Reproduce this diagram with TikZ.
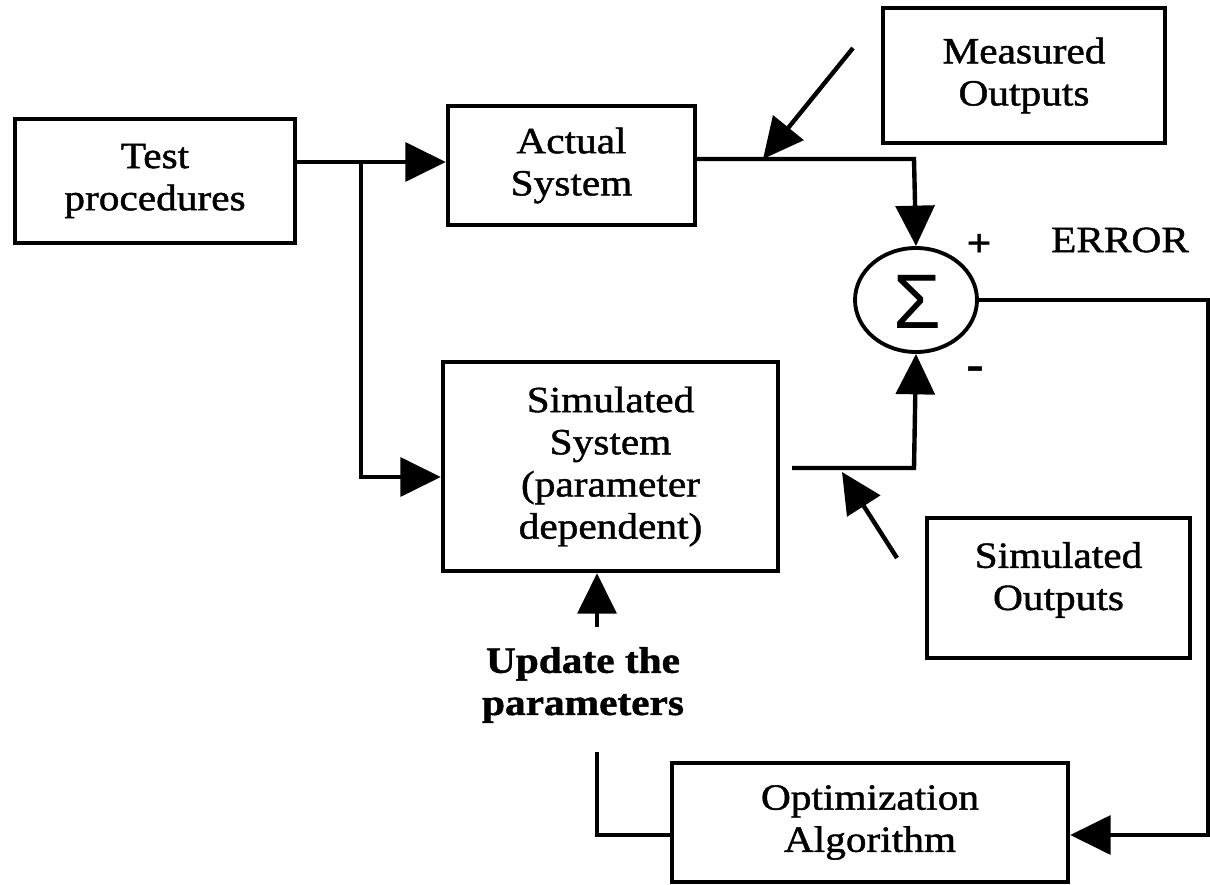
\documentclass[tikz,border=0pt]{standalone}
\usepackage{fontspec}
\setmainfont{Liberation Serif}[FakeStretch=1.12,FakeBold=1.2]
\newfontfamily\sigfont{Liberation Sans}
\usetikzlibrary{arrows.meta,shapes.geometric}
\begin{document}
\begin{tikzpicture}[x=0.02cm,y=-0.02cm,
  box/.style={draw,line width=2.5pt,rectangle,align=center,inner sep=0pt,
    font=\fontsize{21}{24}\selectfont},
  lbl/.style={align=center,inner sep=0pt,font=\fontsize{21}{24}\selectfont},
  conn/.style={line width=2.5pt},
  arr/.style={line width=2.5pt,-{Triangle[length=23pt,width=22pt]}}]
\useasboundingbox (0,0) rectangle (1210,885);
% blocks
\node[box,minimum width=280*0.02cm,minimum height=124*0.02cm] (test) at (155,181) {Test\\procedures};
\node[box,minimum width=247*0.02cm,minimum height=119*0.02cm] (actual) at (571.5,165.5) {Actual\\System};
\node[box,minimum width=282*0.02cm,minimum height=135*0.02cm] (meas) at (1024,75.5) {Measured\\Outputs};
\node[box,minimum width=335*0.02cm,minimum height=209*0.02cm] (sim) at (610.5,466.5) {Simulated\\System\\(parameter\\dependent)};
\node[box,minimum width=263*0.02cm,minimum height=140*0.02cm] (simout) at (1058.5,588) {};
\node[lbl] (simouttext) at (1058.5,580) {Simulated\\Outputs};
\node[box,minimum width=396*0.02cm,minimum height=119*0.02cm] (opt) at (870,822.5) {Optimization\\Algorithm};
\node[draw,ellipse,line width=2.2pt,minimum width=122*0.02cm,minimum height=104*0.02cm,inner sep=0pt] (sum) at (916,300) {};
\node[inner sep=0pt,font=\sigfont\fontsize{44}{44}\selectfont] (sig) at (917,302) {Σ};
% labels
\node[lbl,font=\bfseries\fontsize{22}{24}\selectfont] (plus) at (979,245) {+};
\node[lbl,font=\bfseries\fontsize{26}{24}\selectfont] (minus) at (975,373) {-};
\node[lbl] (err) at (1120,240) {ERROR};
\node[lbl,font=\bfseries\fontsize{21}{24}\selectfont] (upd) at (583,685) {Update the\\parameters};
% coordinates
\coordinate (j1) at (361,162);
\coordinate (j2) at (361,477);
\coordinate (c1) at (914,159);
\coordinate (c2) at (914,468);
\coordinate (s1) at (792,468);
\coordinate (c3) at (1208,835);
\coordinate (c4) at (1208,300);
\coordinate (mtail) at (853,48);
\coordinate (mtip) at (763,159);
\coordinate (stail) at (897,558);
\coordinate (stip) at (842,472);
\coordinate (u1) at (597,627);
\coordinate (u2) at (597,752);
\coordinate (u3) at (597,835);
% connectors
\draw[conn] (test.east|-j1) -- (j1);
\draw[arr] (j1) -- (j1-|actual.west);
\draw[arr] (j1) -- (j2) -- (j2-|sim.west);
\draw[arr] (actual.east|-c1) -- (c1) -- (sum.north);
\draw[arr] (mtail) -- (mtip);
\draw[arr] (s1) -- (c2) -- (sum.south);
\draw[arr] (stail) -- (stip);
\draw[arr] (sum.east) -- (c4) -- (c3) -- (c3-|opt.east);
\draw[arr] (u1) -- (u1|-sim.south);
\draw[conn] (u2) -- (u3) -- (u3-|opt.west);
\end{tikzpicture}
\end{document}
